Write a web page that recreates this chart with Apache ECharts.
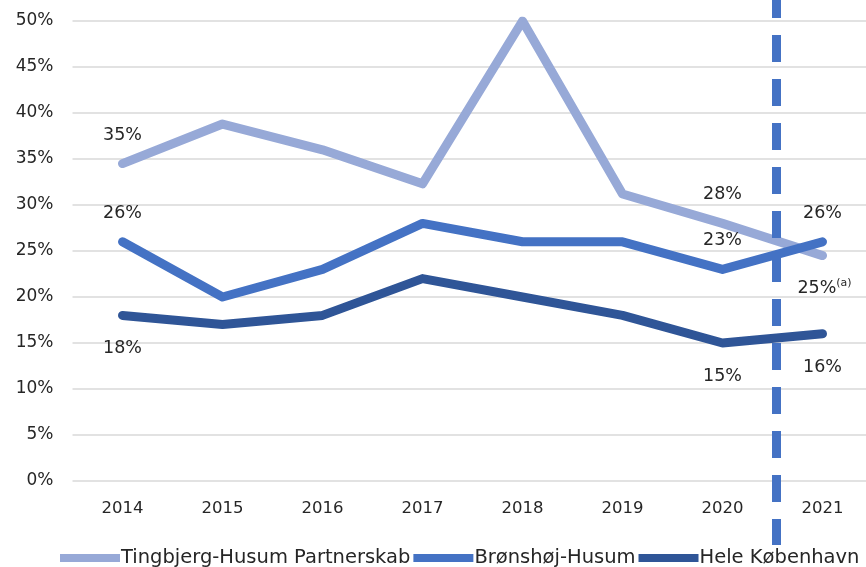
<!DOCTYPE html>
<html><head><meta charset="utf-8">
<script src="https://cdn.jsdelivr.net/npm/echarts@6/dist/echarts.min.js"></script>
<style>html,body{margin:0;padding:0;background:#fff}#c{width:866px;height:567px}</style>
</head><body><div id="c"></div>
<script>
const years = ['2014','2015','2016','2017','2018','2019','2020','2021'];
const seriesNames = ['Tingbjerg-Husum Partnerskab','Brønshøj-Husum','Hele København'];
const tingbjerg = [34.5, 38.8, 36, 32.3, 50, 31.2, 28, 24.5];
const bronshoj = [26, 20, 23, 28, 26, 26, 23, 26];
const hele = [18, 17, 18, 22, 20, 18, 15, 16];
// labels: [index, text, position]
const tingbjergLabels = [[0,'35%','top'],[6,'28%','top'],[7,'25%{sup|(a)}','bottom']];
const bronshojLabels = [[0,'26%','top'],[6,'23%','top'],[7,'26%','top']];
const heleLabels = [[0,'18%','bottom'],[6,'15%','bottom'],[7,'16%','bottom']];
const yTicks = [0,5,10,15,20,25,30,35,40,45,50];
const dividerPos = 6.54; // between 2020 and 2021

const colors = ['#97A9D7','#4472C4','#2F5597'];
const FONT = 'DejaVu Sans';
const TXT = '#262626';

function build(values, labels, bottomDist){
  return values.map((v,i)=>{
    const l = labels.find(x=>x[0]===i);
    const d = {value:v};
    if(l){
      const top = l[2]==='top';
      d.label = {show:true, formatter:l[1], position:l[2], distance: top?19:bottomDist,
        offset: l[1].indexOf('sup')>=0 ? [2,0] : [0,0],
        color:TXT, fontSize:17.5, fontFamily:FONT,
        rich:{sup:{fontSize:11, verticalAlign:'top', padding:[0,0,9,0], color:TXT, fontFamily:FONT}}};
    }
    return d;
  });
}

const chart = echarts.init(document.getElementById('c'));
const zs = [4, 5, 3];
const bottomDists = [22, 22, 24];
const lineSeries = [tingbjerg, bronshoj, hele].map((vals,k)=>({
  name: seriesNames[k], type:'line',
  data: build(vals, [tingbjergLabels, bronshojLabels, heleLabels][k], bottomDists[k]),
  symbol:'circle', symbolSize:1, showSymbol:true,
  itemStyle:{color:colors[k]},
  lineStyle:{color:colors[k], width:9, cap:'round', join:'round'},
  label:{show:false},
  z: zs[k],
  animation:false
}));

chart.setOption({
  animation:false,
  color: colors,
  grid:{left:72.5, width:800, top:21, bottom:86, containLabel:false, outerBoundsMode:'none'},
  legend:{
    top:543, left:55,
    itemWidth:60, itemHeight:8, itemGap:3,
    icon:'rect',
    textStyle:{fontFamily:FONT, fontSize:19.5, color:TXT, padding:[0,0,0,-4]},
    data: seriesNames
  },
  xAxis:{type:'category', data:years, boundaryGap:true,
    axisLine:{show:false}, axisTick:{show:false},
    axisLabel:{color:TXT, fontSize:16.5, fontFamily:FONT, margin:19}},
  yAxis:{type:'value', min:0, max:50, interval:5,
    axisLine:{show:false}, axisTick:{show:false},
    splitLine:{lineStyle:{color:'#D9D9D9', width:1.5}},
    axisLabel:{color:TXT, fontSize:17, fontFamily:FONT, margin:19,
      formatter:v=> yTicks.includes(v) ? v+'%' : ''}},
  series: lineSeries
});

function drawDivider(){
  const i0 = Math.floor(dividerPos);
  const p0 = chart.convertToPixel({gridIndex:0}, [i0, 0]);
  const p1 = chart.convertToPixel({gridIndex:0}, [i0+1, 0]);
  const x = p0[0] + (p1[0]-p0[0])*(dividerPos-i0);
  chart.setOption({graphic:[{type:'line', z:100,
    shape:{x1:x, y1:-9, x2:x, y2:545},
    style:{stroke:'#4472C4', lineWidth:9, lineDash:[27,17]}}]});
}
drawDivider();
</script></body></html>
